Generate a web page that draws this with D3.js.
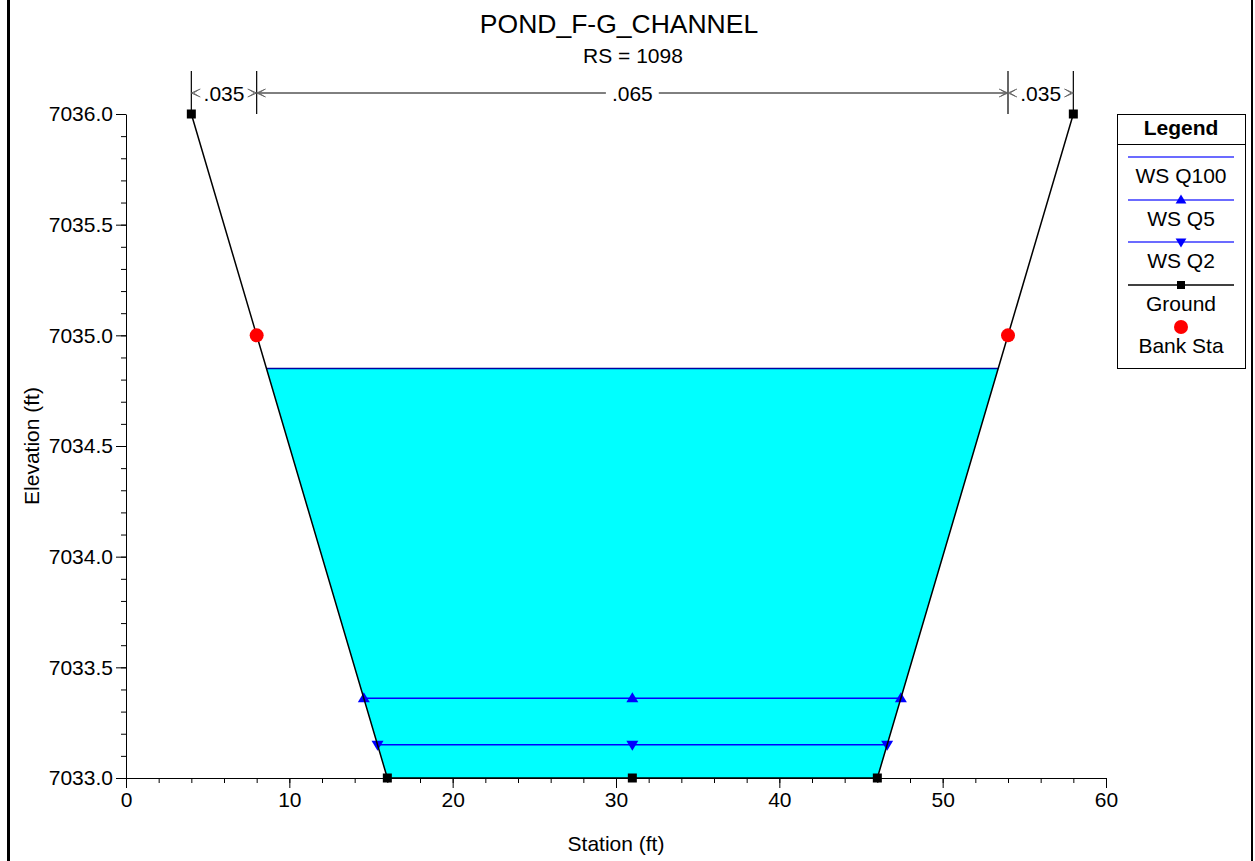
<!DOCTYPE html>
<html>
<head>
<meta charset="utf-8">
<script src="https://cdn.jsdelivr.net/npm/d3@7"></script>
<style>
  html, body { margin: 0; padding: 0; background: #fff; }
  svg { display: block; }
  text { font-family: Arial, "Liberation Sans", sans-serif; fill: #000; }
</style>
</head>
<body>
<svg id="chart" width="1255" height="861"></svg>
<script>
// ---------- DATA ----------
const chartTitle = "POND_F-G_CHANNEL";
const chartSubtitle = "RS = 1098";
const groundStation = [4, 8, 16, 31, 46, 54, 58];
const groundElev = [7036.0, 7035.0, 7033.0, 7033.0, 7033.0, 7035.0, 7036.0];
const groundMarkerStation = [4, 16, 31, 46, 58];
const bankStation = [8, 54];
const bankElev = [7035.0, 7035.0];
const wsNames = ["WS Q100", "WS Q5", "WS Q2"];
const wsElev = [7034.85, 7033.36, 7033.15];
const wsMarker = ["none", "up", "down"];
const nBreakStation = [4, 8, 54, 58];
const nValues = [".035", ".065", ".035"];
const xTicks = [0, 10, 20, 30, 40, 50, 60];
const yTicks = [7033.0, 7033.5, 7034.0, 7034.5, 7035.0, 7035.5, 7036.0];
const legendNames = ["WS Q100", "WS Q5", "WS Q2", "Ground", "Bank Sta"];

// ---------- SETUP ----------
const svg = d3.select("#chart");
const x = d3.scaleLinear().domain([0, 60]).range([126, 1106]);
const y = d3.scaleLinear().domain([7033, 7036]).range([778, 114]);
const ground = groundStation.map((s, i) => ({ s, e: groundElev[i] }));
const WS_BLUE = "#0000ff";
const FS = "21px";

// outer frame
svg.append("line").attr("x1", 8.5).attr("x2", 8.5).attr("y1", 0).attr("y2", 861)
  .attr("stroke", "#000").attr("stroke-width", 3);
svg.append("line").attr("x1", 1252).attr("x2", 1252).attr("y1", 0).attr("y2", 861)
  .attr("stroke", "#000").attr("stroke-width", 2);

// titles
svg.append("text").attr("x", 619).attr("y", 33).attr("text-anchor", "middle")
  .style("font-size", "26.5px").text(chartTitle);
svg.append("text").attr("x", 633).attr("y", 63).attr("text-anchor", "middle")
  .style("font-size", FS).text(chartSubtitle);

// ---------- helpers ----------
function intersections(elev) {
  const pts = [];
  for (let i = 0; i < ground.length - 1; i++) {
    const a = ground[i], b = ground[i + 1];
    if ((a.e - elev) * (b.e - elev) < 0) {
      const t = (elev - a.e) / (b.e - a.e);
      pts.push({ s: a.s + t * (b.s - a.s), idx: i });
    }
  }
  return pts;
}

// ---------- water fill (highest WS) ----------
const topWs = d3.max(wsElev);
const cross = intersections(topWs);
const L = cross[0], R = cross[cross.length - 1];
const poly = [{ s: L.s, e: topWs }];
for (let i = L.idx + 1; i <= R.idx; i++) poly.push(ground[i]);
poly.push({ s: R.s, e: topWs });
svg.append("path")
  .attr("d", d3.line().x(d => x(d.s)).y(d => y(d.e))(poly) + "Z")
  .attr("fill", "#00ffff").attr("stroke", "none");

// ---------- axes ----------
const yMinor = d3.range(0, 31).map(i => 7033 + i * 0.1);
const xMinor = d3.range(0, 31).map(i => i * 2);
svg.append("g").attr("transform", "translate(126,0)")
  .call(d3.axisLeft(y).tickValues(yMinor).tickSize(5).tickSizeOuter(0).tickFormat(""))
  .call(g => g.selectAll("line,path").attr("stroke", "#000"));
svg.append("g").attr("transform", "translate(126,0)")
  .call(d3.axisLeft(y).tickValues(yTicks).tickSize(10).tickSizeOuter(0).tickPadding(3).tickFormat(d3.format(".1f")))
  .call(g => g.select(".domain").remove())
  .call(g => g.selectAll("line").attr("stroke", "#000"))
  .call(g => g.selectAll("text").style("font-size", FS).style("font-family", "Arial, 'Liberation Sans', sans-serif"));
svg.append("g").attr("transform", "translate(0,778)")
  .call(d3.axisBottom(x).tickValues(xMinor).tickSize(5).tickSizeOuter(0).tickFormat(""))
  .call(g => g.selectAll("line,path").attr("stroke", "#000"));
svg.append("g").attr("transform", "translate(0,778)")
  .call(d3.axisBottom(x).tickValues(xTicks).tickSize(10).tickSizeOuter(0).tickPadding(4).tickFormat(d3.format("d")))
  .call(g => g.select(".domain").remove())
  .call(g => g.selectAll("line").attr("stroke", "#000"))
  .call(g => g.selectAll("text").style("font-size", FS).style("font-family", "Arial, 'Liberation Sans', sans-serif"));

svg.append("text").attr("x", 616).attr("y", 851).attr("text-anchor", "middle")
  .style("font-size", FS).text("Station (ft)");
svg.append("text").attr("transform", "translate(39,446) rotate(-90)").attr("text-anchor", "middle")
  .style("font-size", FS).text("Elevation (ft)");

// ---------- water surface lines ----------
function triPath(dir, size) {
  const h = size, w = size * 0.6;
  return dir === "up" ? `M0,${-h * 0.6}L${w},${h * 0.4}L${-w},${h * 0.4}Z`
                      : `M0,${h * 0.6}L${w},${-h * 0.4}L${-w},${-h * 0.4}Z`;
}
wsElev.forEach((el, k) => {
  const c = intersections(el);
  const a = c[0].s, b = c[c.length - 1].s;
  svg.append("line").attr("x1", x(a)).attr("x2", x(b)).attr("y1", y(el)).attr("y2", y(el))
    .attr("stroke", k === 0 ? "#0000a0" : WS_BLUE).attr("stroke-width", 1.6);
  if (wsMarker[k] !== "none") {
    const mid = groundStation[3];
    [a, mid, b].forEach(s => {
      svg.append("path").attr("d", triPath(wsMarker[k], 10))
        .attr("transform", `translate(${x(s)},${y(el)})`).attr("fill", WS_BLUE);
    });
  }
});

// ---------- ground ----------
svg.append("path")
  .attr("d", d3.line().x(d => x(d.s)).y(d => y(d.e))(ground))
  .attr("fill", "none").attr("stroke", "#000").attr("stroke-width", 1.5);
svg.selectAll(".gm").data(groundMarkerStation).enter().append("rect")
  .attr("x", s => x(s) - 4.5)
  .attr("y", s => y(groundElev[groundStation.indexOf(s)]) - 4.5)
  .attr("width", 9).attr("height", 9).attr("fill", "#000");

// bank stations
svg.selectAll(".bk").data(bankStation).enter().append("circle")
  .attr("cx", s => x(s)).attr("cy", (s, i) => y(bankElev[i])).attr("r", 7).attr("fill", "#ff0000");

// ---------- Manning's n ----------
const nY = 93;
nBreakStation.forEach(s => {
  svg.append("line").attr("x1", x(s)).attr("x2", x(s)).attr("y1", 71).attr("y2", 114)
    .attr("stroke", "#000").attr("stroke-width", 1.2);
});
function arrowHead(px, dir) {
  const len = 9, hw = 4;
  const p = d3.path();
  p.moveTo(px - dir * len, nY - hw); p.lineTo(px, nY); p.lineTo(px - dir * len, nY + hw);
  p.moveTo(px - dir * (len - 2), nY - hw + 1); p.lineTo(px - dir * 2, nY);
  p.lineTo(px - dir * (len - 2), nY + hw - 1);
  svg.append("path").attr("d", p.toString()).attr("fill", "none").attr("stroke", "#666").attr("stroke-width", 1);
}
for (let i = 0; i < nValues.length; i++) {
  const a = x(nBreakStation[i]), b = x(nBreakStation[i + 1]);
  const cx = (a + b) / 2;
  const t = svg.append("text").attr("x", cx).attr("y", nY + 7.5).attr("text-anchor", "middle")
    .style("font-size", FS).text(nValues[i]);
  const tw = t.node().getComputedTextLength();
  const gap = tw / 2 + 6;
  if (cx - gap > a + 10) {
    svg.append("line").attr("x1", a).attr("x2", cx - gap).attr("y1", nY).attr("y2", nY).attr("stroke", "#000");
    svg.append("line").attr("x1", cx + gap).attr("x2", b).attr("y1", nY).attr("y2", nY).attr("stroke", "#000");
  }
  arrowHead(a, -1);
  arrowHead(b, 1);
}

// ---------- legend ----------
const lg = svg.append("g");
lg.append("rect").attr("x", 1117.5).attr("y", 114.5).attr("width", 128).attr("height", 254)
  .attr("fill", "#fff").attr("stroke", "#000").attr("stroke-width", 1);
lg.append("line").attr("x1", 1117.5).attr("x2", 1245.5).attr("y1", 144.5).attr("y2", 144.5).attr("stroke", "#000");
lg.append("text").attr("x", 1181).attr("y", 135).attr("text-anchor", "middle")
  .style("font-size", "21px").style("font-weight", "bold").text("Legend");
const lx1 = 1128, lx2 = 1234, lcx = 1181;
const rowLine = [157, 200, 242, 285, 327];
const rowText = [183, 226, 268, 311, 353];
legendNames.forEach((name, i) => {
  if (i < 3) {
    lg.append("line").attr("x1", lx1).attr("x2", lx2).attr("y1", rowLine[i]).attr("y2", rowLine[i])
      .attr("stroke", "#3a3aff").attr("stroke-width", 1.3);
    if (wsMarker[i] !== "none")
      lg.append("path").attr("d", triPath(wsMarker[i], 9))
        .attr("transform", `translate(${lcx},${rowLine[i]})`).attr("fill", WS_BLUE);
  } else if (i === 3) {
    lg.append("line").attr("x1", lx1).attr("x2", lx2).attr("y1", rowLine[i]).attr("y2", rowLine[i])
      .attr("stroke", "#000").attr("stroke-width", 1.3);
    lg.append("rect").attr("x", lcx - 4).attr("y", rowLine[i] - 4).attr("width", 8).attr("height", 8).attr("fill", "#000");
  } else {
    lg.append("circle").attr("cx", lcx).attr("cy", rowLine[i]).attr("r", 7).attr("fill", "#ff0000");
  }
  lg.append("text").attr("x", lcx).attr("y", rowText[i]).attr("text-anchor", "middle")
    .style("font-size", "21px").text(name);
});
</script>
</body>
</html>
